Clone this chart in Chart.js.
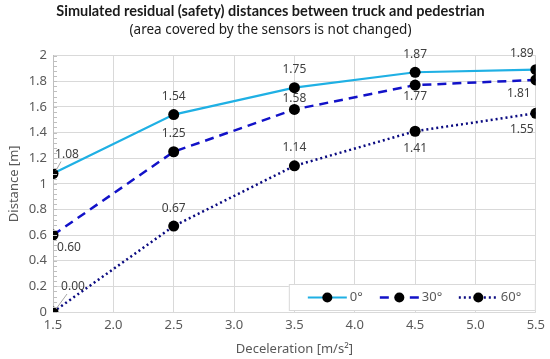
<!DOCTYPE html>
<html>
<head>
<meta charset="utf-8">
<script src="https://cdn.jsdelivr.net/npm/chart.js@4/dist/chart.umd.min.js"></script>
<style>
  html, body { margin: 0; padding: 0; background: #fff; }
  #wrap { width: 550px; height: 359px; position: relative; }
</style>
</head>
<body>
<div id="wrap"><canvas id="c"></canvas></div>
<script>
// values
const deceleration = [1.5, 2.5, 3.5, 4.5, 5.5];
const dist0 = [1.08, 1.54, 1.75, 1.87, 1.89];
const dist30 = [0.60, 1.25, 1.58, 1.77, 1.81];
const dist60 = [0.00, 0.67, 1.14, 1.41, 1.55];
const seriesNames = ['0°', '30°', '60°'];

const FONT = "'Noto Sans', 'Liberation Sans', sans-serif";
const TXT = '#595959';

// label offsets (px) relative to each point, per series
const labelOffsets = [
    [[14, -19, true], [0, -18], [0, -18], [0, -18], [-14, -16]],
    [[16, 12], [0, -18], [0, -11], [0, 11], [-17, 14]],
    [[20, -25, true], [0, -18], [0, -18], [0, 17], [-14, 16]]
];

function toXY(xs, ys) {
    return xs.map((x, i) => ({ x, y: ys[i] }));
}

const dataLabels = {
    id: 'dataLabels',
    afterDatasetsDraw(chart) {
        const ctx = chart.ctx;
        ctx.save();
        ctx.font = '12px ' + FONT;
        ctx.textAlign = 'center';
        ctx.textBaseline = 'middle';
        chart.data.datasets.forEach((ds, di) => {
            chart.getDatasetMeta(di).data.forEach((pt, i) => {
                const off = labelOffsets[di][i];
                const lx = pt.x + off[0], ly = pt.y + off[1];
                if (off[2]) {
                    ctx.strokeStyle = '#a6a6a6';
                    ctx.lineWidth = 1;
                    ctx.beginPath();
                    ctx.moveTo(pt.x + 3, pt.y - 3);
                    ctx.lineTo(lx - 6, ly + 7);
                    ctx.stroke();
                }
                ctx.fillStyle = '#404040';
                ctx.fillText(ds.data[i].y.toFixed(2), lx, ly);
            });
        });
        ctx.restore();
    }
};

// minor tick marks on the y axis
const minorTicks = {
    id: 'minorTicks',
    afterDatasetsDraw(chart) {
        const ctx = chart.ctx, y = chart.scales.y, a = chart.chartArea;
        ctx.save();
        ctx.strokeStyle = '#bfbfbf';
        ctx.lineWidth = 1;
        ctx.beginPath();
        for (let v = 0; v <= 2.0001; v += 0.04) {
            const py = Math.round(y.getPixelForValue(v)) + 0.5;
            ctx.moveTo(a.left, py);
            ctx.lineTo(a.left + 4, py);
        }
        ctx.stroke();
        ctx.restore();
    }
};

// legend box inside the plot, lower right
const boxLegend = {
    id: 'boxLegend',
    afterDraw(chart) {
        const ctx = chart.ctx, a = chart.chartArea;
        const x0 = a.right - 247, y0 = a.bottom - 28, w = 247, h = 27;
        ctx.save();
        ctx.fillStyle = '#fff';
        ctx.fillRect(x0, y0, w, h);
        ctx.strokeStyle = '#d9d9d9';
        ctx.lineWidth = 1;
        ctx.strokeRect(x0 + 0.5, y0 + 0.5, w - 1, h - 1);
        const cy = y0 + h / 2;
        const starts = [x0 + 19, x0 + 91, x0 + 170];
        chart.data.datasets.forEach((ds, i) => {
            const sx = starts[i];
            ctx.strokeStyle = ds.borderColor;
            ctx.lineWidth = ds.borderWidth;
            ctx.setLineDash(ds.borderDash || []);
            ctx.beginPath();
            ctx.moveTo(sx, cy);
            ctx.lineTo(sx + 39, cy);
            ctx.stroke();
            ctx.setLineDash([]);
            ctx.fillStyle = '#000';
            ctx.beginPath();
            ctx.arc(sx + 19.5, cy, 5, 0, Math.PI * 2);
            ctx.fill();
            ctx.fillStyle = TXT;
            ctx.font = '13px ' + FONT;
            ctx.textAlign = 'left';
            ctx.textBaseline = 'middle';
            ctx.fillText(ds.label, sx + 42, cy);
        });
        ctx.restore();
    }
};

const common = {
    fill: false,
    tension: 0,
    pointRadius: 5.5,
    pointHoverRadius: 5.5,
    pointBackgroundColor: '#000',
    pointBorderColor: '#000',
    pointBorderWidth: 0
};

new Chart(document.getElementById('c'), {
    type: 'line',
    data: {
        datasets: [
            { ...common, label: seriesNames[0], data: toXY(deceleration, dist0),
              borderColor: '#1fb0e4', borderWidth: 2.2 },
            { ...common, label: seriesNames[1], data: toXY(deceleration, dist30),
              borderColor: '#1212c8', borderWidth: 2.5, borderDash: [9, 6] },
            { ...common, label: seriesNames[2], data: toXY(deceleration, dist60),
              borderColor: '#0a0a80', borderWidth: 2.5, borderDash: [2, 3] }
        ]
    },
    options: {
        responsive: true,
        maintainAspectRatio: false,
        animation: false,
        layout: { padding: { left: 0, right: 9, top: 0, bottom: 0 } },
        plugins: {
            legend: { display: false },
            tooltip: { enabled: false },
            title: {
                display: true,
                text: 'Simulated residual (safety) distances between truck and pedestrian',
                color: '#1a1a1a',
                font: { family: "Lato, " + FONT, size: 14.5, weight: 'bold' },
                padding: { top: 3, bottom: 0 }
            },
            subtitle: {
                display: true,
                text: '(area covered by the sensors is not changed)',
                color: '#1a1a1a',
                font: { family: FONT, size: 13.5 },
                padding: { top: 2, bottom: 17 }
            }
        },
        scales: {
            x: {
                type: 'linear',
                min: 1.5,
                max: 5.5,
                afterFit: s => { s.height = 47; },
                ticks: {
                    stepSize: 0.5,
                    color: TXT,
                    font: { family: FONT, size: 13 },
                    padding: 5,
                    callback: v => v.toFixed(1)
                },
                grid: { color: '#d9d9d9', drawTicks: false },
                border: { display: false },
                title: {
                    display: true,
                    text: 'Deceleration [m/s²]',
                    color: TXT,
                    font: { family: FONT, size: 13 },
                    padding: { top: 0, bottom: 2 }
                }
            },
            y: {
                min: 0,
                max: 2,
                afterFit: s => { s.width = 53; },
                ticks: {
                    stepSize: 0.2,
                    color: TXT,
                    font: { family: FONT, size: 13 },
                    padding: 6,
                    callback: v => String(Math.round(v * 10) / 10)
                },
                grid: { color: '#d9d9d9', drawTicks: false },
                border: { display: true, color: '#bfbfbf' },
                title: {
                    display: true,
                    text: 'Distance [m]',
                    color: TXT,
                    font: { family: FONT, size: 13 },
                    padding: { top: 6, bottom: 0 }
                }
            }
        }
    },
    plugins: [minorTicks, dataLabels, boxLegend]
});
</script>
</body>
</html>
